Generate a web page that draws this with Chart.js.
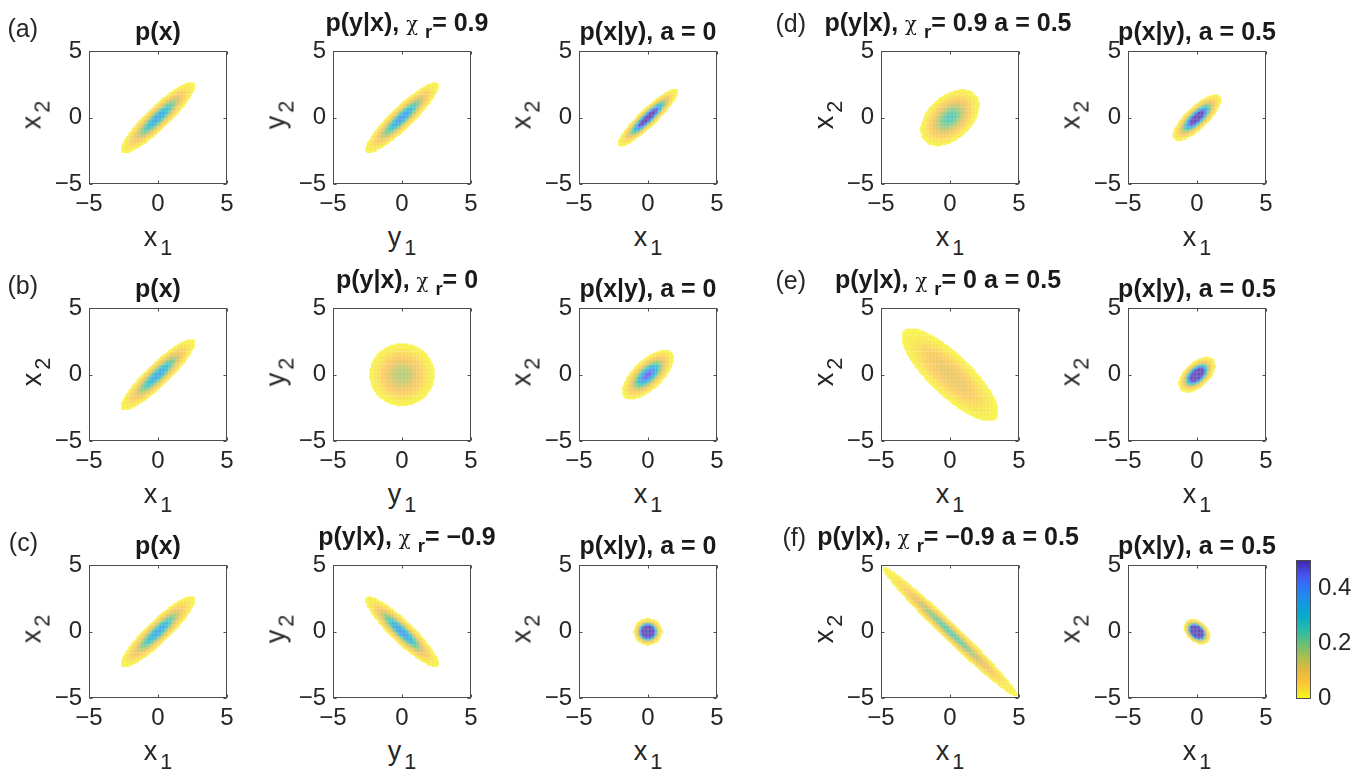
<!DOCTYPE html>
<html>
<head>
<meta charset="utf-8">
<script src="https://cdn.jsdelivr.net/npm/chart.js@4.4.1/dist/chart.umd.min.js"></script>
<style>
  body { margin: 0; background: #fff; width: 1363px; height: 771px; position: relative; overflow: hidden;
         font-family: "Liberation Sans", Arial, sans-serif; color: #262626; }
  canvas { position: absolute; }
  .ttl { position: absolute; font-weight: bold; font-size: 25px; line-height: 1; white-space: nowrap;
         color: #1a1a1a; transform: translate(-50%, -50%); }
  .lab { position: absolute; font-size: 27px; line-height: 1; white-space: nowrap; transform: translate(-50%, -50%); }
  .lab.rot { transform: translate(-50%, -50%) rotate(-90deg); }
  .tag { position: absolute; font-size: 25px; line-height: 1; white-space: nowrap; transform: translate(-100%, -50%); }
  .chi { font-weight: normal; font-family: "DejaVu Serif", serif; font-size: 0.78em; }
  sub { font-size: 0.8em; vertical-align: -0.4em; line-height: 0; }
  .ttl sub { font-size: 0.74em; margin-left: 7px; }
  .lab sub { margin-left: 3px; }
</style>
</head>
<body>
<script>
// ---- data (panels listed row by row: a..c, then the d..f pair on the right) ----
const panelTitles = [
  'p(x)', 'p(y|x), {chi}= 0.9', 'p(x|y), a = 0', 'p(y|x), {chi}= 0.9 a = 0.5', 'p(x|y), a = 0.5',
  'p(x)', 'p(y|x), {chi}= 0', 'p(x|y), a = 0', 'p(y|x), {chi}= 0 a = 0.5', 'p(x|y), a = 0.5',
  'p(x)', 'p(y|x), {chi}= \u22120.9', 'p(x|y), a = 0', 'p(y|x), {chi}= \u22120.9 a = 0.5', 'p(x|y), a = 0.5'
];
const rowTags = [['(a)', '(d)'], ['(b)', '(e)'], ['(c)', '(f)']];
const axisLetter = ['x', 'y', 'x', 'x', 'x'];   // per column

// covariance of each gaussian
const varX1  = [1.00, 0.95, 0.55, 0.70, 0.36,  1.00, 1.00, 0.45, 2.60, 0.19,  1.00, 0.95, 0.10, 3.78, 0.085];
const varX2  = [1.00, 0.95, 0.55, 0.70, 0.36,  1.00, 1.00, 0.45, 2.60, 0.19,  1.00, 0.95, 0.10, 3.78, 0.085];
const covX12 = [0.90, 0.86, 0.50, 0.30, 0.28,  0.90, 0.00, 0.30, -2.10, 0.10, 0.90, -0.86, 0.00, -3.72, -0.03];

const densityFloor = 0.01;   // cells below this are left blank
const colorMax = 0.5;        // colour axis 0 .. 0.5
const gridStep = 0.1;
const tickValues = [-5, 0, 5];
const cbTicks = [0, 0.2, 0.4];

// parula, used flipped (0 = yellow, top = dark blue)
const parulaPos = [0, 0.1, 0.2, 0.3, 0.4, 0.5, 0.6, 0.7, 0.8, 0.88, 0.95, 1];
const parulaRGB = [[62,38,168],[71,80,240],[45,120,248],[22,150,224],[8,170,205],[40,186,170],
                   [100,191,120],[170,190,80],[228,186,62],[252,192,58],[245,226,40],[249,251,14]];

// ---- layout ----
const colLeft = [89, 333, 579, 881, 1128];
const rowTop = [45, 302, 559];
const boxW = 138, boxH = 139;
const padL = 62, padT = 15, padR = 15, padB = 36;

function cmap(v, alpha) {
  const t = 1 - Math.min(Math.max(v / colorMax, 0), 1);
  let i = 0;
  while (i < parulaPos.length - 2 && t > parulaPos[i + 1]) i++;
  const r = (t - parulaPos[i]) / (parulaPos[i + 1] - parulaPos[i]);
  const c = parulaRGB[i].map((c0, j) => c0 + (parulaRGB[i + 1][j] - c0) * r);
  return 'rgb(' + c.map(ch => Math.round(255 - (255 - ch) * alpha)).join(',') + ')';
}

function density(k, x, y) {
  const a = varX1[k], d = varX2[k], b = covX12[k];
  const det = a * d - b * b;
  const q = (d * x * x - 2 * b * x * y + a * y * y) / det;
  return Math.exp(-q / 2) / (2 * Math.PI * Math.sqrt(det));
}

const fmt = v => (v < 0 ? '\u2212' + Math.abs(v) : String(v));
const tickFont = { family: '"Liberation Sans", Arial, sans-serif', size: 24 };

// box round the plot area, with small inward ticks like matlab
const framePlugin = {
  id: 'frame',
  afterDatasetsDraw(chart, args, opts) {
    const { ctx, chartArea: a, scales } = chart;
    const l = Math.round(a.left) + 0.5, t = Math.round(a.top) + 0.5;
    const r = Math.round(a.right) - 0.5, b = Math.round(a.bottom) - 0.5;
    ctx.save();
    ctx.strokeStyle = opts.color;
    ctx.lineWidth = 1;
    ctx.strokeRect(l, t, r - l, b - t);
    if (opts.tickLen) {
      const L = opts.tickLen;
      ctx.beginPath();
      scales.x.ticks.forEach(tk => {
        const px = Math.round(scales.x.getPixelForValue(tk.value)) + 0.5;
        ctx.moveTo(px, t); ctx.lineTo(px, t + L);
        ctx.moveTo(px, b); ctx.lineTo(px, b - L);
      });
      scales.y.ticks.forEach(tk => {
        const py = Math.round(scales.y.getPixelForValue(tk.value)) + 0.5;
        ctx.moveTo(l, py); ctx.lineTo(l + L, py);
        ctx.moveTo(r, py); ctx.lineTo(r - L, py);
      });
      ctx.stroke();
    }
    ctx.restore();
  }
};

function addDiv(cls, html, x, y) {
  const d = document.createElement('div');
  d.className = cls;
  d.innerHTML = html;
  d.style.left = x + 'px';
  d.style.top = y + 'px';
  document.body.appendChild(d);
  return d;
}

function makePanel(k) {
  const row = Math.floor(k / 5), col = k % 5;
  const left = colLeft[col], top = rowTop[row];

  // density cells on a regular grid
  const pts = [], cols = [];
  const n = Math.round(10 / gridStep);
  for (let i = 0; i <= n; i++) {
    for (let j = 0; j <= n; j++) {
      const x = -5 + i * gridStep, y = -5 + j * gridStep;
      const p = density(k, x, y);
      if (p >= densityFloor) {
        pts.push({ x: x, y: y });
        cols.push(cmap(p, 0.8));
      }
    }
  }

  const cv = document.createElement('canvas');
  cv.width = padL + boxW + padR;
  cv.height = padT + boxH + padB;
  cv.style.left = (left - padL) + 'px';
  cv.style.top = (top - padT) + 'px';
  document.body.appendChild(cv);

  const axisOpts = (fit) => ({
    type: 'linear', min: -5, max: 5,
    afterBuildTicks: s => { s.ticks = tickValues.map(v => ({ value: v })); },
    afterFit: fit,
    grid: { display: false, drawTicks: false },
    border: { display: false },
    ticks: { font: tickFont, color: '#262626', callback: fmt, maxRotation: 0, autoSkip: false }
  });
  const xAxis = axisOpts(s => { s.height = padB; });
  xAxis.ticks.padding = 6;
  const yAxis = axisOpts(s => { s.width = padL; });
  yAxis.ticks.padding = 7;

  new Chart(cv, {
    type: 'scatter',
    data: {
      datasets: [{
        data: pts,
        pointBackgroundColor: cols,
        pointStyle: 'rect',
        pointRadius: 1.1,
        pointBorderWidth: 0,
        pointHoverRadius: 0
      }]
    },
    options: {
      responsive: false,
      animation: false,
      events: [],
      layout: { padding: { left: 0, top: padT, right: padR, bottom: 0 } },
      plugins: {
        legend: { display: false },
        tooltip: { enabled: false },
        frame: { color: '#4d4d4d', tickLen: 3 }
      },
      scales: { x: xAxis, y: yAxis }
    },
    plugins: [framePlugin]
  });

  // title, axis labels
  const raw = panelTitles[k];
  const hasSub = raw.indexOf('{chi}') >= 0;
  const html = raw.replace('{chi}', '<span class="chi">\u03c7</span><sub>r</sub>');
  const cx = col === 3 ? 948 : left + boxW / 2 + (hasSub ? 5 : 0);
  addDiv('ttl', html, cx, top - (hasSub ? 23 : 14));

  const v = axisLetter[col];
  addDiv('lab', v + '<sub>1</sub>', left + boxW / 2, top + boxH + 53);
  addDiv('lab rot', v + '<sub>2</sub>', left - 57, top + boxH / 2);
}

for (let k = 0; k < panelTitles.length; k++) makePanel(k);

// panel letters
rowTags.forEach((pair, r) => {
  addDiv('tag', pair[0], 38, rowTop[r] - 17);
  addDiv('tag', pair[1], 806, rowTop[r] - 22);
});

// colour bar
(function () {
  const cbLeft = 1296, cbTop = 554, cbW = 15, cbH = 151;
  const cv = document.createElement('canvas');
  cv.width = cbW + 60;
  cv.height = cbH + 30;
  cv.style.left = cbLeft + 'px';
  cv.style.top = (cbTop - 15) + 'px';
  document.body.appendChild(cv);

  new Chart(cv, {
    type: 'bar',
    data: {
      labels: [''],
      datasets: [{
        data: [[0, colorMax]],
        barPercentage: 1,
        categoryPercentage: 1,
        borderWidth: 0,
        backgroundColor: (c) => {
          const a = c.chart.chartArea;
          if (!a) return null;
          const g = c.chart.ctx.createLinearGradient(0, a.bottom, 0, a.top);
          for (let s = 0; s <= 40; s++) g.addColorStop(s / 40, cmap(colorMax * s / 40, 1));
          return g;
        }
      }]
    },
    options: {
      responsive: false,
      animation: false,
      events: [],
      layout: { padding: { left: 0, top: 15, right: 0, bottom: 15 } },
      plugins: {
        legend: { display: false },
        tooltip: { enabled: false },
        frame: { color: '#4d4d4d', tickLen: 0 }
      },
      scales: {
        x: { display: false },
        y: {
          position: 'right', min: 0, max: colorMax,
          afterBuildTicks: s => { s.ticks = cbTicks.map(v => ({ value: v })); },
          afterFit: s => { s.width = 60; },
          grid: { display: false, drawTicks: false },
          border: { display: false },
          ticks: { font: tickFont, color: '#262626', padding: 7, callback: v => String(v) }
        }
      }
    },
    plugins: [framePlugin]
  });
})();
</script>
</body>
</html>
